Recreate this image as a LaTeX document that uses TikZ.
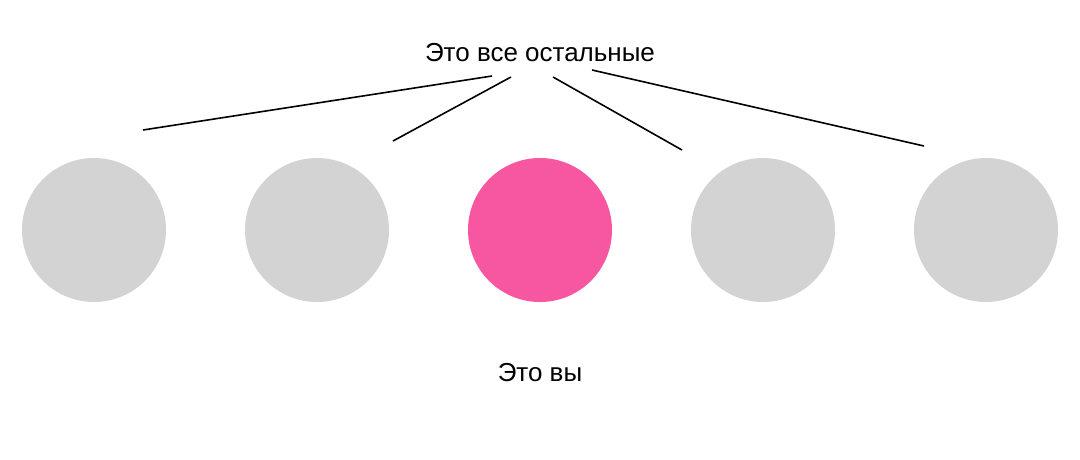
\documentclass[tikz,border=0pt]{standalone}
\usepackage{fontspec}
\setmainfont{Liberation Sans}
\definecolor{pinkc}{HTML}{F757A0}
\definecolor{grayc}{HTML}{D3D3D3}
\begin{document}
\begin{tikzpicture}[x=1pt,y=-1pt,
  dot/.style={circle,minimum size=144pt,inner sep=0pt,fill=grayc,draw=none},
  lbl/.style={font=\fontsize{26}{30}\selectfont,inner sep=0pt,text=black},
  ln/.style={draw=black,line width=1.6pt}]
\useasboundingbox (0,0) rectangle (1080,459);
\node[lbl] (top) at (540,53) {Это все остальные};
\node[dot] (c1) at (94,230) {};
\node[dot] (c2) at (317,230) {};
\node[dot,fill=pinkc] (c3) at (540,230) {};
\node[dot] (c4) at (763,230) {};
\node[dot] (c5) at (986,230) {};
\node[lbl] (you) at (540,373) {Это вы};
\coordinate (a1) at (143,130); \coordinate (b1) at (492,76);
\coordinate (a2) at (393,141); \coordinate (b2) at (511,77);
\coordinate (a3) at (682,150); \coordinate (b3) at (553,77);
\coordinate (a4) at (924,146); \coordinate (b4) at (592,70);
\draw[ln] (b1) -- (a1);
\draw[ln] (b2) -- (a2);
\draw[ln] (b3) -- (a3);
\draw[ln] (b4) -- (a4);
\end{tikzpicture}
\end{document}
